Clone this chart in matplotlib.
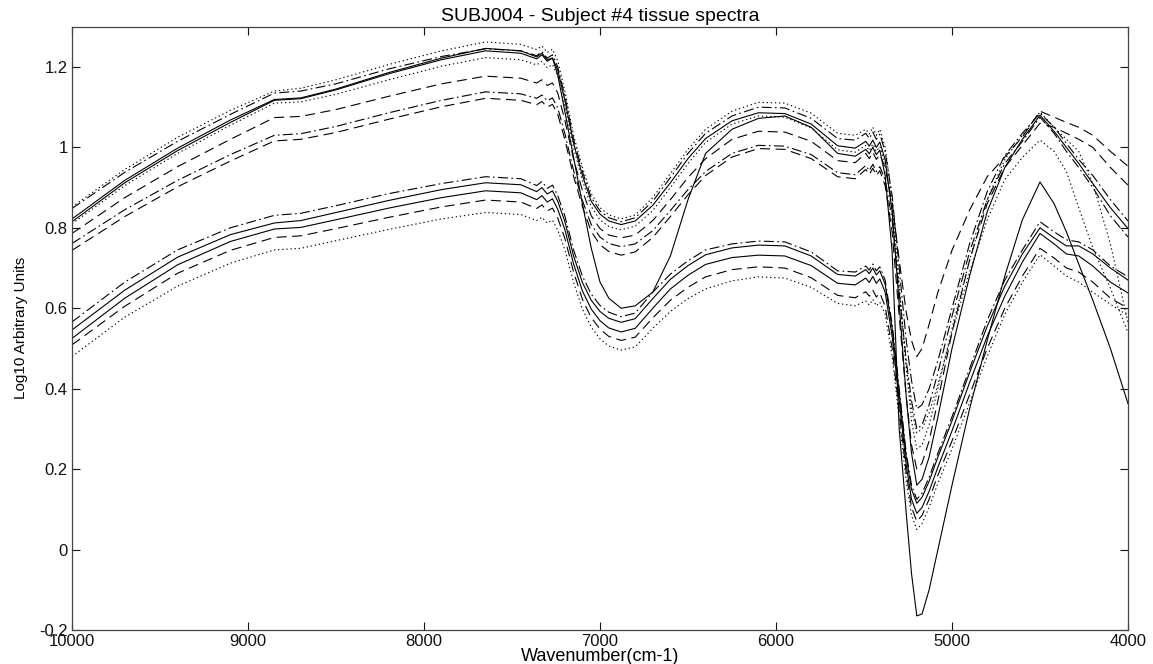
import numpy as np
import matplotlib
matplotlib.use('Agg')
import matplotlib.pyplot as plt

plt.rcParams['font.family'] = ['Liberation Sans', 'DejaVu Sans']

# wavenumber grid (cm-1)
wavenumber = [10000, 9700, 9400, 9100, 8850, 8700, 8500, 8200, 7900, 7650,
              7450, 7360, 7330, 7300, 7270, 7240, 7200, 7150, 7100, 7050,
              7000, 6950, 6880, 6800, 6700, 6600, 6500, 6400, 6250, 6100,
              5950, 5800, 5650, 5550, 5490, 5470, 5450, 5430, 5410, 5380,
              5340, 5300, 5260, 5230, 5200, 5170, 5130, 5080, 5000, 4900,
              4800, 4700, 4600, 4500, 4420, 4350, 4280, 4200, 4100, 4000]

# upper group of spectra
up_dot1 = [0.852, 0.945, 1.025, 1.092, 1.140, 1.147, 1.168, 1.206, 1.240, 1.262,
           1.256, 1.243, 1.252, 1.236, 1.244, 1.215, 1.140, 1.030, 0.950, 0.885,
           0.850, 0.832, 0.822, 0.832, 0.875, 0.935, 0.995, 1.045, 1.090, 1.112,
           1.110, 1.085, 1.035, 1.030, 1.045, 1.033, 1.050, 1.030, 1.045, 1.000,
           0.870, 0.660, 0.450, 0.320, 0.250, 0.260, 0.310, 0.400, 0.550, 0.720,
           0.870, 0.970, 1.030, 1.088, 1.050, 1.020, 0.990, 0.910, 0.760, 0.564]
up_dashdot1 = [0.848, 0.938, 1.015, 1.082, 1.135, 1.140, 1.158, 1.195, 1.226, 1.245,
               1.240, 1.228, 1.238, 1.222, 1.230, 1.200, 1.128, 1.020, 0.940, 0.875,
               0.842, 0.825, 0.815, 0.825, 0.866, 0.925, 0.985, 1.035, 1.078, 1.100,
               1.098, 1.072, 1.022, 1.018, 1.035, 1.022, 1.038, 1.020, 1.033, 0.990,
               0.880, 0.700, 0.520, 0.420, 0.350, 0.360, 0.400, 0.470, 0.600, 0.760,
               0.890, 0.980, 1.035, 1.085, 1.050, 1.010, 0.970, 0.930, 0.870, 0.817]
up_solid = [0.815, 0.912, 0.992, 1.062, 1.117, 1.121, 1.143, 1.183, 1.218, 1.240,
            1.234, 1.220, 1.230, 1.214, 1.222, 1.192, 1.118, 1.010, 0.930, 0.866,
            0.834, 0.817, 0.808, 0.817, 0.856, 0.912, 0.972, 1.022, 1.066, 1.086,
            1.084, 1.058, 1.004, 0.998, 1.015, 1.003, 1.018, 1.000, 1.013, 0.970,
            0.840, 0.610, 0.380, 0.240, 0.160, 0.175, 0.230, 0.330, 0.500, 0.680,
            0.840, 0.950, 1.020, 1.080, 1.040, 1.000, 0.960, 0.910, 0.850, 0.798]
up_dot2 = [0.810, 0.905, 0.985, 1.055, 1.110, 1.113, 1.132, 1.168, 1.202, 1.223,
           1.218, 1.205, 1.214, 1.198, 1.206, 1.178, 1.105, 0.998, 0.918, 0.853,
           0.820, 0.803, 0.795, 0.804, 0.843, 0.900, 0.960, 1.012, 1.058, 1.078,
           1.075, 1.048, 0.994, 0.988, 1.005, 0.992, 1.008, 0.990, 1.002, 0.960,
           0.840, 0.640, 0.460, 0.350, 0.290, 0.300, 0.340, 0.410, 0.540, 0.690,
           0.820, 0.920, 0.975, 1.018, 0.990, 0.940, 0.850, 0.750, 0.650, 0.539]
up_dash1 = [0.786, 0.875, 0.952, 1.020, 1.074, 1.077, 1.094, 1.127, 1.158, 1.177,
            1.172, 1.160, 1.168, 1.154, 1.160, 1.135, 1.068, 0.970, 0.893, 0.830,
            0.798, 0.782, 0.775, 0.782, 0.818, 0.870, 0.925, 0.972, 1.020, 1.040,
            1.038, 1.015, 0.967, 0.962, 0.985, 0.972, 0.988, 0.970, 0.982, 0.950,
            0.860, 0.720, 0.590, 0.520, 0.480, 0.500, 0.560, 0.640, 0.744, 0.844,
            0.927, 0.976, 1.026, 1.090, 1.075, 1.062, 1.050, 1.030, 0.990, 0.953]
up_dashdot2 = [0.761, 0.845, 0.918, 0.982, 1.030, 1.034, 1.052, 1.086, 1.117, 1.138,
               1.133, 1.122, 1.130, 1.116, 1.123, 1.098, 1.035, 0.942, 0.868, 0.808,
               0.777, 0.761, 0.753, 0.760, 0.793, 0.843, 0.895, 0.940, 0.985, 1.005,
               1.003, 0.982, 0.937, 0.932, 0.955, 0.942, 0.958, 0.940, 0.952, 0.920,
               0.820, 0.640, 0.470, 0.370, 0.300, 0.310, 0.360, 0.440, 0.580, 0.740,
               0.870, 0.960, 1.015, 1.075, 1.035, 0.990, 0.950, 0.900, 0.830, 0.777]
up_dash2 = [0.744, 0.828, 0.902, 0.966, 1.016, 1.020, 1.037, 1.070, 1.101, 1.122,
            1.117, 1.106, 1.114, 1.100, 1.107, 1.082, 1.020, 0.928, 0.853, 0.791,
            0.758, 0.741, 0.732, 0.740, 0.776, 0.828, 0.882, 0.930, 0.976, 0.997,
            0.995, 0.972, 0.927, 0.922, 0.945, 0.932, 0.948, 0.930, 0.942, 0.905,
            0.790, 0.580, 0.380, 0.260, 0.200, 0.215, 0.270, 0.370, 0.540, 0.720,
            0.860, 0.950, 1.005, 1.060, 1.050, 1.035, 1.020, 1.000, 0.950, 0.906]
# the odd one with the deep bands
odd_solid = [0.822, 0.918, 0.998, 1.068, 1.119, 1.123, 1.145, 1.186, 1.222, 1.246,
             1.240, 1.225, 1.234, 1.218, 1.222, 1.180, 1.090, 0.975, 0.860, 0.750,
             0.665, 0.625, 0.600, 0.606, 0.640, 0.730, 0.870, 0.985, 1.045, 1.072,
             1.078, 1.050, 0.985, 0.978, 0.995, 0.984, 1.000, 0.982, 0.993, 0.930,
             0.740, 0.300, 0.090, -0.060, -0.165, -0.160, -0.100, 0.000, 0.160, 0.350,
             0.520, 0.680, 0.820, 0.914, 0.860, 0.790, 0.710, 0.620, 0.500, 0.363]

# lower group of spectra
lo_dashdot = [0.566, 0.665, 0.745, 0.800, 0.831, 0.836, 0.855, 0.885, 0.910, 0.927,
              0.922, 0.905, 0.915, 0.898, 0.906, 0.880, 0.830, 0.745, 0.680, 0.635,
              0.607, 0.590, 0.579, 0.588, 0.640, 0.685, 0.718, 0.745, 0.760, 0.767,
              0.765, 0.740, 0.693, 0.690, 0.705, 0.695, 0.710, 0.693, 0.703, 0.670,
              0.560, 0.400, 0.240, 0.160, 0.125, 0.140, 0.180, 0.240, 0.330, 0.450,
              0.570, 0.670, 0.745, 0.815, 0.790, 0.770, 0.765, 0.745, 0.705, 0.678]
lo_solid1 = [0.546, 0.645, 0.727, 0.783, 0.812, 0.818, 0.838, 0.868, 0.895, 0.912,
             0.907, 0.890, 0.900, 0.884, 0.892, 0.866, 0.816, 0.730, 0.664, 0.620,
             0.592, 0.575, 0.565, 0.574, 0.624, 0.672, 0.706, 0.733, 0.750, 0.757,
             0.755, 0.730, 0.684, 0.680, 0.696, 0.686, 0.700, 0.683, 0.693, 0.660,
             0.550, 0.390, 0.230, 0.150, 0.115, 0.130, 0.170, 0.230, 0.320, 0.440,
             0.555, 0.655, 0.735, 0.800, 0.775, 0.755, 0.755, 0.735, 0.700, 0.670]
lo_solid2 = [0.525, 0.625, 0.708, 0.766, 0.797, 0.801, 0.820, 0.849, 0.875, 0.892,
             0.887, 0.870, 0.880, 0.864, 0.872, 0.846, 0.796, 0.710, 0.643, 0.598,
             0.569, 0.551, 0.541, 0.550, 0.600, 0.648, 0.682, 0.709, 0.726, 0.732,
             0.730, 0.706, 0.662, 0.658, 0.675, 0.664, 0.679, 0.662, 0.673, 0.640,
             0.530, 0.370, 0.210, 0.125, 0.090, 0.105, 0.145, 0.205, 0.295, 0.415,
             0.530, 0.630, 0.715, 0.786, 0.760, 0.735, 0.730, 0.705, 0.665, 0.638]
lo_dash = [0.509, 0.605, 0.687, 0.744, 0.776, 0.780, 0.798, 0.826, 0.852, 0.869,
           0.864, 0.848, 0.857, 0.842, 0.849, 0.824, 0.774, 0.690, 0.622, 0.577,
           0.548, 0.530, 0.520, 0.528, 0.576, 0.620, 0.652, 0.678, 0.696, 0.703,
           0.700, 0.676, 0.632, 0.626, 0.641, 0.630, 0.645, 0.628, 0.638, 0.605,
           0.500, 0.345, 0.190, 0.105, 0.070, 0.085, 0.125, 0.185, 0.270, 0.385,
           0.500, 0.600, 0.680, 0.749, 0.725, 0.700, 0.690, 0.665, 0.625, 0.600]
lo_dot = [0.480, 0.578, 0.655, 0.712, 0.745, 0.749, 0.768, 0.796, 0.822, 0.838,
          0.833, 0.818, 0.826, 0.812, 0.819, 0.794, 0.746, 0.664, 0.598, 0.553,
          0.524, 0.506, 0.496, 0.504, 0.550, 0.592, 0.624, 0.648, 0.668, 0.678,
          0.675, 0.652, 0.612, 0.606, 0.618, 0.608, 0.622, 0.606, 0.615, 0.585,
          0.480, 0.325, 0.170, 0.085, 0.050, 0.065, 0.105, 0.165, 0.250, 0.365,
          0.480, 0.585, 0.665, 0.733, 0.705, 0.680, 0.665, 0.640, 0.610, 0.582]

solid = '-'
dotted = (0, (1.2, 2.5))
dashed = (0, (9, 5))
dashdot = (0, (9, 3, 1.5, 3))

spectra = [
    (up_dot1, dotted), (up_dashdot1, dashdot), (up_solid, solid),
    (up_dot2, dotted), (up_dash1, dashed), (up_dashdot2, dashdot),
    (up_dash2, dashed), (odd_solid, solid),
    (lo_dashdot, dashdot), (lo_solid1, solid), (lo_solid2, solid),
    (lo_dash, dashed), (lo_dot, dotted),
]

fig = plt.figure(figsize=(11.53, 6.64), dpi=100)
ax = fig.add_axes([72 / 1153, 34 / 664, 1056 / 1153, 603.3 / 664])

for vals, ls in spectra:
    assert len(vals) == len(wavenumber)
    ax.plot(wavenumber, vals, color='k', lw=0.8, linestyle=ls)

ax.set_xlim(10000, 4000)
ax.set_ylim(-0.2, 1.3)
ax.set_xticks(np.arange(10000, 3999, -1000))
ax.set_yticks([-0.2, 0, 0.2, 0.4, 0.6, 0.8, 1, 1.2])
ax.set_yticklabels(['-0.2', '0', '0.2', '0.4', '0.6', '0.8', '1', '1.2'])
ax.tick_params(direction='in', top=True, right=True, length=6, width=0.8,
               labelsize=12, pad=3, colors='#111111')
for sp in ax.spines.values():
    sp.set_linewidth(0.9)
    sp.set_color('#444444')

ax.set_title('SUBJ004 - Subject #4 tissue spectra', fontsize=14, pad=4)
ax.set_xlabel('Wavenumber(cm-1)', fontsize=13, labelpad=-1)
ax.set_ylabel('Log10 Arbitrary Units', fontsize=11, labelpad=8,
              family=['Liberation Sans Narrow', 'Liberation Sans', 'DejaVu Sans'])

fig.savefig('out.png', dpi=100, facecolor='white')
